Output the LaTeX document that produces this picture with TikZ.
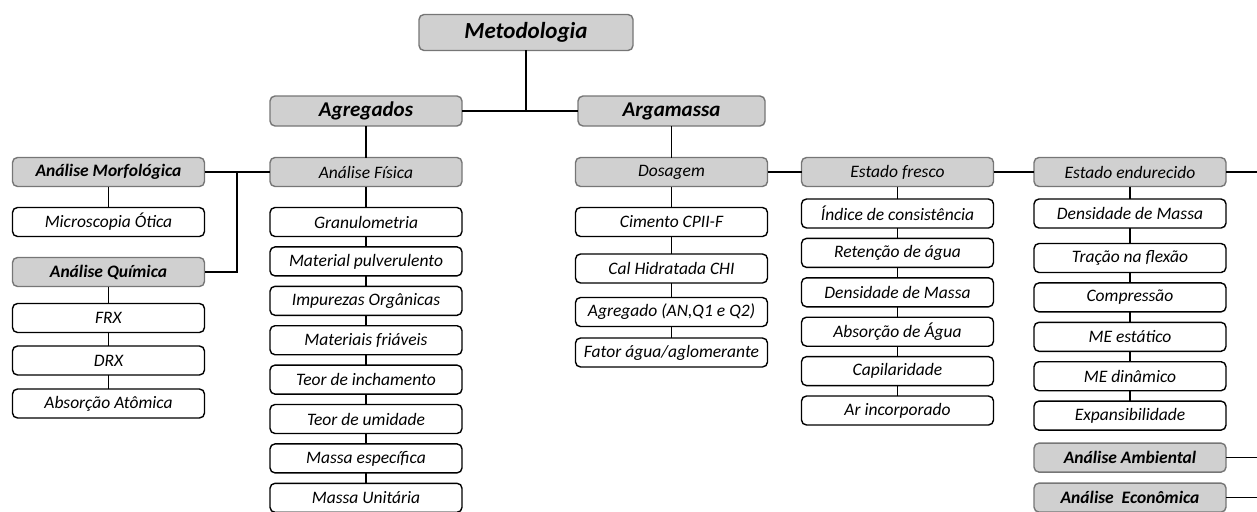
\documentclass[tikz,border=0pt]{standalone}
\usepackage{fontspec}
\setmainfont{Carlito}
\usetikzlibrary{positioning}

\definecolor{boxgray}{RGB}{208,208,208}
\definecolor{edgegray}{RGB}{118,118,118}

\begin{document}
\begin{tikzpicture}[
  x=1pt, y=-1pt,
  font=\fontsize{17.5}{19}\selectfont\itshape,
  node distance=10.4pt and 30pt,
  item/.style={draw=black, line width=1.4pt, rounded corners=5pt, fill=white, outer sep=0pt,
               minimum width=192pt, minimum height=29pt, inner sep=0pt, align=center},
  head/.style={item, draw=edgegray, fill=boxgray},
  boldhead/.style={head, font=\fontsize{17.5}{19}\selectfont\bfseries\itshape},
  bighead/.style={head, font=\fontsize{21}{23}\selectfont\bfseries\itshape},
  link/.style={draw=black, line width=1.6pt}
]
\useasboundingbox (0,0) rectangle (1257,511);

% top levels
\node[bighead, font=\fontsize{23}{25}\selectfont\bfseries\itshape,
      minimum width=214pt, minimum height=36pt] (meto) at (526,32.5) {Metodologia};
\node[bighead, minimum height=30pt] (agr) at (366,111) {Agregados};
\node[bighead, minimum width=187pt, minimum height=30pt] (arg) at (671.5,111) {Argamassa};

% agregados
\node[boldhead] (morf) at (108.5,172) {Análise Morfológica};
\node[item, below=21pt of morf] (mic) {Microscopia Ótica};
\node[boldhead, below=21pt of mic] (qui) {Análise Química};
\node[item, below=17pt of qui] (frx) {FRX};
\node[item, below=13.5pt of frx] (drx) {DRX};
\node[item, below=14pt of drx] (absat) {Absorção Atômica};

\node[head] (fis) at (366,172) {Análise Física};
\node[item, below=21pt of fis] (gran) {Granulometria};
\node[item, below=of gran] (pulv) {Material pulverulento};
\node[item, below=of pulv] (impur) {Impurezas Orgânicas};
\node[item, below=of impur] (friav) {Materiais friáveis};
\node[item, below=of friav] (inch) {Teor de inchamento};
\node[item, below=of inch] (umid) {Teor de umidade};
\node[item, below=of umid] (mesp) {Massa específica};
\node[item, below=of mesp] (munit) {Massa Unitária};

% argamassa
\node[head] (dos) at (671.5,172) {Dosagem};
\node[item, below=21pt of dos] (cim) {Cimento CPII-F};
\node[item, below=17.5pt of cim] (cal) {Cal Hidratada CHI};
\node[item, below=14.5pt of cal] (agq) {Agregado (AN,Q1 e Q2)};
\node[item, below=11.5pt of agq] (fator) {Fator água/aglomerante};

\node[head] (fre) at (897.5,172) {Estado fresco};
\node[item, below=12.5pt of fre] (ind) {Índice de consistência};
\node[item, below=of ind] (ret) {Retenção de água};
\node[item, below=of ret] (densf) {Densidade de Massa};
\node[item, below=of densf] (absag) {Absorção de Água};
\node[item, below=of absag] (capil) {Capilaridade};
\node[item, below=of capil] (ar) {Ar incorporado};

\node[head] (endu) at (1130,172) {Estado endurecido};
\node[item, below=12.5pt of endu] (dense) {Densidade de Massa};
\node[item, below=15.5pt of dense] (trac) {Tração na flexão};
\node[item, below=of trac] (comp) {Compressão};
\node[item, below=of comp] (mest) {ME estático};
\node[item, below=of mest] (mdin) {ME dinâmico};
\node[item, below=of mdin] (expan) {Expansibilidade};
\node[boldhead, below=13pt of expan] (amb) {Análise Ambiental};
\node[boldhead, below=11pt of amb] (eco) {Análise\ \ Econômica};

\coordinate (mq) at (237,172);
\coordinate (endout) at (1257,172);
\coordinate (ambout) at (1257,0 |- amb);
\coordinate (ecoout) at (1257,0 |- eco);

% connectors
\draw[link] (agr) -- (arg);
\draw[link] (meto) -- (meto |- agr);
\draw[link] (agr) -- (fis);
\draw[link] (arg) -- (dos);
\draw[link] (morf) -- (fis);
\draw[link] (mq) |- (qui.east);
\draw[link] (morf) -- (mic);
\draw[link] (qui) -- (frx) -- (drx) -- (absat);
\draw[link] (fis) -- (gran) -- (pulv) -- (impur) -- (friav) -- (inch) -- (umid) -- (mesp) -- (munit);
\draw[link] (dos) -- (fre);
\draw[link] (fre) -- (endu);
\draw[link] (endu) -- (endout);
\draw[link] (dos) -- (cim) -- (cal) -- (agq) -- (fator);
\draw[link] (fre) -- (ind) -- (ret) -- (densf) -- (absag) -- (capil) -- (ar);
\draw[link] (endu) -- (dense) -- (trac) -- (comp) -- (mest) -- (mdin) -- (expan);
\draw[link] (amb) -- (ambout);
\draw[link] (eco) -- (ecoout);
\end{tikzpicture}
\end{document}
